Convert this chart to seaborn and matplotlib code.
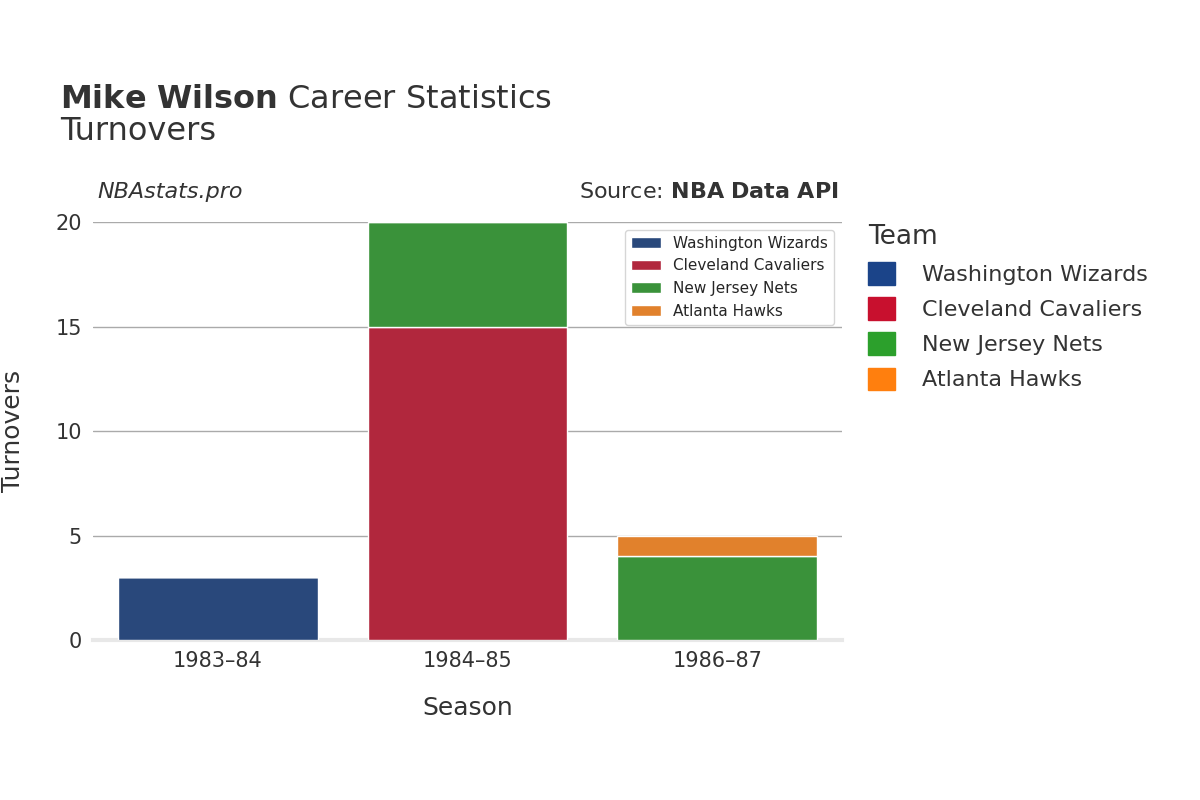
import matplotlib
matplotlib.use("Agg")
import matplotlib.pyplot as plt
import seaborn as sns
import pandas as pd
import numpy as np

seasons = ["1983–84", "1984–85", "1986–87"]
teams = ["Washington Wizards", "Cleveland Cavaliers", "New Jersey Nets", "Atlanta Hawks"]
colors = ["#1b4489", "#c8102e", "#2ca02c", "#ff7f0e"]
washington = [3, 0, 0]
cleveland = [0, 15, 0]
new_jersey = [0, 5, 4]
atlanta = [0, 0, 1]
values = [washington, cleveland, new_jersey, atlanta]

sns.set_theme(style="white", font="DejaVu Sans")
fig = plt.figure(figsize=(12, 8), dpi=100)
ax = fig.add_axes([0.0775, 0.2, 0.6242, 0.5225])

bottom = np.zeros(len(seasons))
for team, vals, c in zip(teams, values, colors):
    df = pd.DataFrame({"Season": seasons, "v": vals})
    sns.barplot(data=df, x="Season", y="v", color=c, bottom=bottom, width=0.8,
                ax=ax, edgecolor="white", linewidth=1, label=team, zorder=3)
    bottom = bottom + np.array(vals)

ax.set_ylim(0, 20)
ax.set_xlim(-0.5, 2.5)
ax.set_yticks([0, 5, 10, 15, 20])
ax.yaxis.grid(True, color="#aaaaaa", linewidth=1, zorder=0)
ax.set_axisbelow(True)
for s in ["top", "right", "left"]:
    ax.spines[s].set_visible(False)
ax.spines["bottom"].set_color("#e8e8e8")
ax.spines["bottom"].set_linewidth(3)
ax.tick_params(axis="both", labelsize=15, colors="#333333", length=0, pad=8)
ax.set_xlabel("Season", fontsize=18, color="#333333", labelpad=18)
ax.set_ylabel("Turnovers", fontsize=18, color="#333333", labelpad=22)

fig.text(0.05, 0.875, r"$\bf{Mike\ Wilson}$ Career Statistics", fontsize=23, color="#333333", va="center")
fig.text(0.05, 0.835, "Turnovers", fontsize=23, color="#333333", va="center")
fig.text(0.081, 0.76, "NBAstats.pro", fontsize=16, style="italic", color="#333333", va="center")
fig.text(0.699, 0.76, r"Source: $\bf{NBA\ Data\ API}$", fontsize=16, color="#333333", va="center", ha="right")

handles = [plt.Rectangle((0, 0), 1, 1, color=c) for c in colors]
leg = fig.legend(handles, teams, title="Team", loc="upper left", bbox_to_anchor=(0.707, 0.745),
                 frameon=False, fontsize=16, title_fontsize=19, handlelength=1.2, handleheight=1.2,
                 labelspacing=0.55, handletextpad=1.2, labelcolor="#333333")
leg._legend_box.align = "left"
leg.get_title().set_color("#333333")

fig.savefig("out.png", dpi=100)
